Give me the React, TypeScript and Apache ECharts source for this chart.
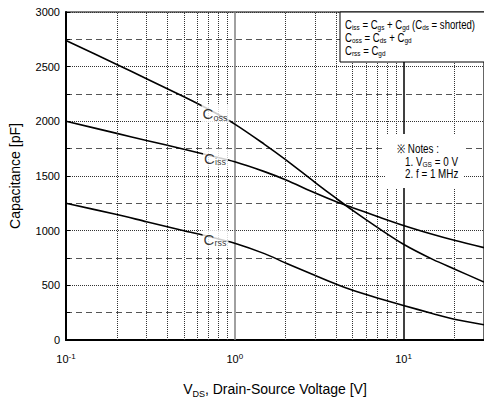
import React, { useEffect, useRef } from 'react';
import * as echarts from 'echarts';

// ---- data ----
const vds = [0.1, 0.2, 0.3, 0.5, 0.7, 1, 1.5, 2, 3, 4, 5, 7, 10, 15, 20, 30];
const ciss = [2000, 1890, 1825, 1745, 1690, 1630, 1540, 1465, 1345, 1265, 1210, 1130, 1048, 965, 912, 845];
const coss = [2740, 2520, 2390, 2225, 2110, 1975, 1790, 1650, 1440, 1295, 1185, 1030, 876, 735, 650, 530];
const crss = [1250, 1148, 1082, 1000, 948, 885, 790, 705, 590, 510, 455, 385, 316, 240, 190, 140];

const yTickLabels = ['0', '500', '1000', '1500', '2000', '2500', '3000'];

const minorX = [0.2, 0.3, 0.4, 0.5, 0.6, 0.7, 0.8, 0.9, 2, 3, 4, 5, 6, 7, 8, 9, 20];
const majorX = [1, 10];
const majorXColors = ['#808080', '#000'];

const labelNames = ['oss', 'iss', 'rss'];
const labelV = [0.769, 0.769, 0.769];
const labelC = [2069, 1663, 922];

const legendLines = [
  '{m|C}{s|iss}{m| = C}{s|gs}{m| + C}{s|gd}{m| (C}{s|ds}{m| = shorted)}',
  '{m|C}{s|oss}{m| = C}{s|ds}{m| + C}{s|gd}',
  '{m|C}{s|rss}{m| = C}{s|gd}',
];
const noteLines = ['{m|\u203B Notes :}', '{m|1. V}{s|GS}{m| = 0 V}', '{m|2. f = 1 MHz}'];

const FONT = '"Liberation Sans", Arial, sans-serif';

const subRich = (size: number, sub: number, lh: number) => ({
  m: { fontSize: size, fontFamily: FONT, color: '#000', lineHeight: lh },
  s: { fontSize: sub, fontFamily: FONT, color: '#000', lineHeight: sub, verticalAlign: 'bottom' },
});

export default function App() {
  const ref = useRef<HTMLDivElement>(null);
  useEffect(() => {
    if (!ref.current) return;
    const chart = echarts.init(ref.current, undefined, { renderer: 'svg' });
    const curve = (name: string, vals: number[]) => ({
      name,
      type: 'line',
      smooth: 0.3,
      symbol: 'none',
      silent: true,
      z: 5,
      lineStyle: { color: '#000', width: 1.6 },
      data: vds.map((v, i) => [v, vals[i]]),
    });
    const gridLines = [
      ...minorX.map((v) => ({ xAxis: v, lineStyle: { color: '#333', type: 'dotted', width: 1 } })),
      ...majorX.map((v, i) => ({ xAxis: v, lineStyle: { color: majorXColors[i], type: 'solid', width: 1.5 } })),
    ];
    chart.setOption({
      animation: false,
      backgroundColor: '#fff',
      grid: { left: 58, top: 12, width: 428, height: 332, show: true, borderColor: '#000', borderWidth: 1.2, backgroundColor: 'transparent' },
      xAxis: {
        type: 'log',
        logBase: 10,
        min: 0.1,
        max: 30,
        name: '{m|V}{s|DS}{m|, Drain-Source Voltage [V]}',
        nameLocation: 'middle',
        nameGap: 40,
        nameTextStyle: { rich: subRich(14, 9, 18) },
        axisLine: { show: true, lineStyle: { color: '#000', width: 2 } },
        axisTick: { show: false },
        splitLine: { show: false },
        axisLabel: {
          showMaxLabel: false,
          margin: 12,
          formatter: (v: number) => {
            const e = Math.round(Math.log10(v));
            if (Math.abs(Math.pow(10, e) - v) > 1e-9 * Math.max(1, v)) return '';
            return `{b|10}{p|${e}}`;
          },
          rich: {
            b: { fontSize: 11, fontFamily: FONT, color: '#000', lineHeight: 14 },
            p: { fontSize: 8, fontFamily: FONT, color: '#000', lineHeight: 8, verticalAlign: 'top' },
          },
        },
      },
      yAxis: {
        type: 'value',
        min: 0,
        max: 3000,
        interval: 500,
        name: 'Capacitance [pF]',
        nameLocation: 'middle',
        nameGap: 44,
        nameTextStyle: { fontSize: 14, fontFamily: FONT, color: '#000' },
        axisLine: { show: true, lineStyle: { color: '#000', width: 2 } },
        axisTick: { show: true, inside: true, length: 4, lineStyle: { color: '#000' } },
        minorTick: { show: true, splitNumber: 2, length: 4, lineStyle: { color: '#000' } },
        axisLabel: {
          fontSize: 11,
          fontFamily: FONT,
          color: '#000',
          margin: 6,
          formatter: (v: number) => yTickLabels[Math.round(v / 500)] ?? String(v),
        },
        splitLine: { show: true, lineStyle: { color: '#333', type: 'dotted', width: 1 } },
        minorSplitLine: { show: true, lineStyle: { color: '#555', type: [6, 4], width: 1.2 } },
      },
      series: [
        {
          type: 'line',
          data: [],
          silent: true,
          z: 1,
          markLine: { silent: true, symbol: ['none', 'none'], label: { show: false }, data: gridLines },
        },
        curve('Ciss', ciss),
        curve('Coss', coss),
        curve('Crss', crss),
        {
          type: 'scatter',
          silent: true,
          z: 10,
          symbolSize: 0.1,
          itemStyle: { color: 'rgba(0,0,0,0)' },
          data: labelNames.map((n, i) => [labelV[i], labelC[i], n]),
          label: {
            show: true,
            position: 'inside',
            backgroundColor: '#fff',
            padding: [1, 2, 1, 1],
            formatter: (p: any) => `{c|C}{s|${p.data[2]}}`,
            rich: {
              c: { fontSize: 15, fontFamily: FONT, color: '#000', lineHeight: 17 },
              s: { fontSize: 9, fontFamily: FONT, color: '#000', lineHeight: 9, verticalAlign: 'bottom' },
            },
          },
        },
      ],
      graphic: [
        {
          type: 'rect',
          z: 50,
          shape: { x: 340, y: 12, width: 160, height: 50 },
          style: { fill: '#fff', stroke: '#000', lineWidth: 1 },
        },
        ...legendLines.map((t, i) => ({
          type: 'text',
          z: 51,
          x: 345,
          y: 25 + i * 13,
          scaleX: 0.8,
          style: { text: t, rich: subRich(12, 8, 13), verticalAlign: 'middle', align: 'left' },
        })),
        {
          type: 'rect',
          z: 50,
          shape: { x: 385, y: 134, width: 78, height: 54 },
          style: { fill: '#fff' },
        },
        ...noteLines.map((t, i) => ({
          type: 'text',
          z: 51,
          x: i === 0 ? 397 : 405,
          y: 149 + i * 12.5,
          scaleX: 0.82,
          style: { text: t, rich: subRich(12, 8, 13), verticalAlign: 'middle', align: 'left' },
        })),
      ],
    });
    return () => chart.dispose();
  }, []);
  return <div ref={ref} style={{ width: 484, height: 403, position: 'absolute', left: 0, top: 0 }} />;
}
